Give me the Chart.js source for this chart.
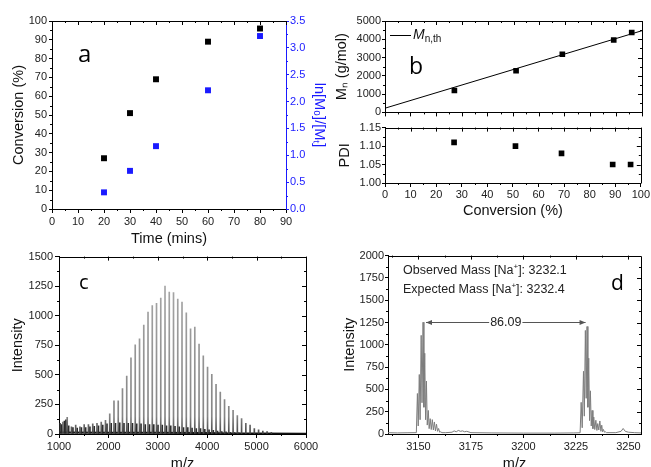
<!DOCTYPE html>
<html>
<head>
<meta charset="utf-8">
<title>Polymerisation kinetics and MALDI</title>
<script src="https://cdn.jsdelivr.net/npm/chart.js@4.4.1/dist/chart.umd.min.js"></script>
<style>
  html, body { margin: 0; padding: 0; background: #fff; overflow: hidden; }
  body { width: 651px; height: 467px; position: relative; font-family: "Liberation Sans", Arial, sans-serif; }
  canvas { position: absolute; }
  .tag { position: absolute; font-family: "Open Sans", sans-serif; color: #000; line-height: 1; }
  .note { position: absolute; font-size: 12.5px; line-height: 15px; color: #222; white-space: nowrap; }
  .note sup { font-size: 8px; vertical-align: 5px; line-height: 0; }
  .legline { position: absolute; height: 1px; background: #000; }
  .legtext { position: absolute; font-size: 14px; line-height: 16px; color: #111; }
  .legtext sub { font-size: 10px; vertical-align: -3px; line-height: 0; }
</style>
</head>
<body>
<canvas id="chart-a" width="330" height="248" style="left:0;top:0"></canvas>
<canvas id="chart-b1" width="321" height="120" style="left:330px;top:0"></canvas>
<canvas id="chart-b2" width="321" height="100" style="left:330px;top:120px"></canvas>
<canvas id="chart-c" width="330" height="225" style="left:0;top:248px"></canvas>
<canvas id="chart-d" width="321" height="225" style="left:330px;top:248px"></canvas>

<div class="tag" style="left:78px;top:41px;font-size:24px">a</div>
<div class="tag" style="left:409px;top:54px;font-size:23px">b</div>
<div class="tag" style="left:79px;top:272px;font-size:20px">c</div>
<div class="tag" style="left:611px;top:272px;font-size:21px">d</div>

<div class="legline" style="left:390px;top:35px;width:21px"></div>
<div class="legtext" style="left:413px;top:26px"><i>M</i><sub>n,th</sub></div>

<div class="note" style="left:403px;top:263px">Observed Mass [Na<sup>+</sup>]: 3232.1</div>
<div class="note" style="left:403px;top:282px">Expected Mass [Na<sup>+</sup>]: 3232.4</div>

<script>
// ---- panel a: conversion and ln[M0]/[Mt] against time
const aTime = [20, 30, 40, 60, 80];
const aConversion = [27, 51, 69, 89, 96];
const aLnRatio = [0.31, 0.71, 1.17, 2.21, 3.22];

// ---- panel b: Mn and PDI against conversion
const bConversion = [27, 51, 69, 89, 96];
const bMn = [1200, 2280, 3180, 3960, 4370];
const bPdi = [1.11, 1.10, 1.08, 1.05, 1.05];
const bTheoryConv = [0, 100];
const bTheoryMn = [230, 4470];

// ---- panel c: full MALDI spectrum, main series (gray) and minor series (dark)
const cMz = [1080, 1166, 1252, 1338, 1424, 1510, 1596, 1683, 1769, 1855,
             1941, 2027, 2113, 2199, 2285, 2371, 2457, 2543, 2630, 2716,
             2802, 2888, 2974, 3060, 3146, 3232, 3318, 3404, 3490, 3577,
             3663, 3749, 3835, 3921, 4007, 4093, 4179, 4265, 4351, 4437,
             4524, 4610, 4696, 4782, 4868, 4954, 5040, 5126, 5212, 5298];
const cIntensity = [100, 140, 60, 75, 60, 80, 80, 85, 90, 100,
                    115, 170, 280, 280, 385, 490, 645, 755, 805, 920,
                    1030, 1085, 1105, 1150, 1250, 1200, 1195, 1140, 1115, 1025,
                    890, 905, 760, 660, 565, 505, 420, 355, 290, 235,
                    200, 155, 130, 90, 75, 45, 35, 25, 20, 15];
const cMinorMz = [1020, 1050, 1110, 1140, 1196, 1282, 1368, 1454, 1540, 1626,
                  1713, 1799, 1885, 1971, 2057, 2143, 2229, 2315, 2401, 2487,
                  2573, 2660, 2746, 2832, 2918, 3004, 3090, 3176, 3262, 3348,
                  3434, 3520, 3607, 3693, 3779, 3865, 3951, 4037, 4123, 4209,
                  4295, 4381, 4467, 4554, 4640];
const cMinorIntensity = [90, 80, 110, 120, 70, 55, 50, 55, 55, 60,
                         65, 70, 75, 85, 90, 90, 95, 90, 90, 90,
                         85, 85, 80, 80, 80, 75, 75, 70, 70, 65,
                         60, 55, 55, 50, 45, 45, 40, 35, 30, 25,
                         20, 18, 15, 12, 10];
const cBaseMz = [1000, 2000, 3000, 4000, 4500, 5000, 6000];
const cBaseIntensity = [12, 10, 10, 8, 5, 4, 3];

// ---- panel d: zoom on two neighbouring isotope clusters
const dMz = [3135.5, 3140, 3145, 3149.0,
  3149.5, 3149.9, 3150.4, 3150.8, 3151.3, 3151.7, 3152.2, 3152.6, 3153.0, 3153.4,
  3153.8, 3154.2, 3154.7, 3155.1, 3155.6, 3156.1, 3156.6, 3157.1, 3157.6, 3158.1,
  3158.6, 3159.1, 3159.6, 3160.1, 3160.6, 3161.2,
  3163, 3166, 3167, 3168, 3169, 3170, 3171, 3172, 3173, 3175,
  3185, 3200, 3215, 3224, 3227.0,
  3227.5, 3228.0, 3228.6, 3229.0, 3229.5, 3229.9, 3230.3, 3230.7, 3231.1, 3231.5,
  3231.9, 3232.3, 3232.7, 3233.1, 3233.5, 3234.0, 3234.5, 3235.0, 3235.4, 3235.9,
  3236.4, 3236.9, 3237.3, 3237.7, 3238.1, 3238.6, 3239.0, 3239.6,
  3244, 3246.5, 3247.5, 3248.5, 3250, 3253, 3256];
const dIntensity = [15, 12, 14, 15,
  454, 90, 667, 160, 1106, 350, 1253, 300, 905, 160,
  593, 100, 264, 60, 172, 50, 161, 45, 135, 35,
  110, 30, 62, 20, 25, 15,
  15, 20, 35, 25, 40, 30, 35, 25, 30, 15,
  12, 10, 10, 12, 14,
  355, 70, 703, 200, 1161, 400, 1205, 300, 850, 150,
  484, 90, 264, 60, 190, 50, 154, 40, 117, 45,
  146, 30, 99, 25, 51, 20, 25, 15,
  15, 30, 62, 30, 20, 15, 12];
const dSpacingFrom = 3153.6;
const dSpacingTo = 3229.6;
const dSpacingAt = 1255;
const dSpacingLabel = '86.09';

const FONT = '"Liberation Sans", Arial, sans-serif';
const BLUE = '#1a1aff';

function pairs(xs, ys) {
    return xs.map((x, i) => ({ x: x, y: ys[i] }));
}

// one linear axis, Origin-like: box frame, outward ticks, fixed size
function axis(o) {
    const horiz = o.position === 'bottom' || o.position === 'top';
    const color = o.color || '#000';
    return {
        type: 'linear',
        position: o.position,
        min: o.min,
        max: o.max,
        offset: false,
        afterFit: s => { if (horiz) s.height = o.size; else s.width = o.size; },
        border: { display: true, color: color, width: 1 },
        grid: { drawOnChartArea: false, drawTicks: true, offset: false,
                tickLength: o.tick || 4, tickWidth: 1, color: color, tickColor: color },
        ticks: {
            display: o.labels !== false,
            stepSize: o.step,
            autoSkip: false,
            maxRotation: 0,
            includeBounds: false,
            padding: o.pad === undefined ? 2 : o.pad,
            color: o.color || '#222',
            font: { family: FONT, size: 11 },
            callback: o.fmt || (v => String(v))
        },
        title: o.title ? {
            display: true,
            text: o.title,
            color: o.color || '#111',
            font: { family: FONT, size: 14.5 },
            padding: { top: o.titlePad || 0, bottom: 0 }
        } : { display: false }
    };
}

// top/right frame lines, minor ticks and mirrored ticks
const originFrame = {
    id: 'originFrame',
    afterDraw(chart, args, opts) {
        const { ctx, chartArea: a } = chart;
        const px = v => Math.round(v) + 0.5;
        ctx.save();
        ctx.lineWidth = 1;
        ctx.strokeStyle = '#000';
        ctx.beginPath();
        ctx.moveTo(px(a.left), px(a.top));
        ctx.lineTo(px(a.right), px(a.top));
        if (!opts.rightAxis) {
            ctx.moveTo(px(a.right), px(a.top));
            ctx.lineTo(px(a.right), px(a.bottom));
        }
        ctx.stroke();

        Object.values(chart.scales).forEach(s => {
            const vals = s.ticks.map(t => t.value);
            if (vals.length < 2) return;
            const step = vals[1] - vals[0];
            const minors = [];
            for (let v = vals[0] - step / 2; v <= s.max + 1e-9; v += step) {
                if (v >= s.min - 1e-9) minors.push(v);
            }
            ctx.strokeStyle = s.options.border.color;
            ctx.beginPath();
            const seg = (x1, y1, x2, y2) => { ctx.moveTo(x1, y1); ctx.lineTo(x2, y2); };
            if (s.position === 'bottom') {
                minors.forEach(v => { const x = px(s.getPixelForValue(v)); seg(x, a.bottom, x, a.bottom + 2); });
                if (opts.mirror) {
                    vals.forEach(v => { const x = px(s.getPixelForValue(v)); seg(x, a.top, x, a.top + 4); });
                    minors.forEach(v => { const x = px(s.getPixelForValue(v)); seg(x, a.top, x, a.top + 2); });
                }
            } else if (s.position === 'left') {
                minors.forEach(v => { const y = px(s.getPixelForValue(v)); seg(a.left - 2, y, a.left, y); });
                if (opts.mirror && !opts.rightAxis) {
                    vals.forEach(v => { const y = px(s.getPixelForValue(v)); seg(a.right - 4, y, a.right, y); });
                    minors.forEach(v => { const y = px(s.getPixelForValue(v)); seg(a.right - 2, y, a.right, y); });
                }
            } else if (s.position === 'right') {
                minors.forEach(v => { const y = px(s.getPixelForValue(v)); seg(a.right, y, a.right + 2, y); });
            }
            ctx.stroke();
        });
        ctx.restore();
    }
};

// double arrow between the two clusters in panel d
const spacingArrow = {
    id: 'spacingArrow',
    afterDatasetsDraw(chart) {
        const { ctx, scales: { x, y } } = chart;
        const x1 = x.getPixelForValue(dSpacingFrom);
        const x2 = x.getPixelForValue(dSpacingTo);
        const yy = Math.round(y.getPixelForValue(dSpacingAt)) + 0.5;
        ctx.save();
        ctx.strokeStyle = '#555';
        ctx.fillStyle = '#555';
        ctx.lineWidth = 1;
        ctx.beginPath();
        ctx.moveTo(x1, yy);
        ctx.lineTo(x2, yy);
        ctx.stroke();
        ctx.beginPath();
        ctx.moveTo(x1, yy); ctx.lineTo(x1 + 6, yy - 2.5); ctx.lineTo(x1 + 6, yy + 2.5); ctx.closePath();
        ctx.moveTo(x2, yy); ctx.lineTo(x2 - 6, yy - 2.5); ctx.lineTo(x2 - 6, yy + 2.5); ctx.closePath();
        ctx.fill();
        ctx.font = '12.5px ' + FONT;
        ctx.textAlign = 'center';
        ctx.textBaseline = 'middle';
        const mid = (x1 + x2) / 2;
        const w = ctx.measureText(dSpacingLabel).width;
        ctx.fillStyle = '#fff';
        ctx.fillRect(mid - w / 2 - 1, yy - 7, w + 2, 13);
        ctx.fillStyle = '#222';
        ctx.fillText(dSpacingLabel, mid, yy);
        ctx.restore();
    }
};

const basePlugins = {
    legend: { display: false },
    tooltip: { enabled: false }
};

function square(color, r) {
    return { pointStyle: 'rect', pointRadius: r, backgroundColor: color, borderColor: color, borderWidth: 0 };
}

// ---- panel a
new Chart(document.getElementById('chart-a'), {
    type: 'scatter',
    data: {
        datasets: [
            Object.assign({ label: 'Conversion', data: pairs(aTime, aConversion), yAxisID: 'y' }, square('#000', 4.2)),
            Object.assign({ label: 'ln[M0]/[Mt]', data: pairs(aTime, aLnRatio), yAxisID: 'y2' }, square(BLUE, 4.2))
        ]
    },
    options: {
        responsive: false,
        animation: false,
        layout: { padding: { top: 21, right: 0, left: 0, bottom: 0 } },
        scales: {
            x: axis({ position: 'bottom', min: 0, max: 90, step: 10, size: 39, title: 'Time (mins)', titlePad: 0 }),
            y: axis({ position: 'left', min: 0, max: 100, step: 10, size: 52, tick: 3, title: 'Conversion (%)', titlePad: 10 }),
            y2: axis({ position: 'right', min: 0, max: 3.5, step: 0.5, size: 44, tick: 3, pad: 1, color: BLUE,
                       fmt: v => v.toFixed(1), title: 'ln[M\u2080]/[M\u209C]', titlePad: 2.6 })
        },
        plugins: Object.assign({ originFrame: { mirror: true, rightAxis: true } }, basePlugins)
    },
    plugins: [originFrame]
});

// ---- panel b, upper: Mn
new Chart(document.getElementById('chart-b1'), {
    type: 'scatter',
    data: {
        datasets: [
            { type: 'line', label: 'Mn,th', data: pairs(bTheoryConv, bTheoryMn), borderColor: '#000',
              borderWidth: 1, pointRadius: 0, fill: false },
            Object.assign({ label: 'Mn', data: pairs(bConversion, bMn) }, square('#000', 4))
        ]
    },
    options: {
        responsive: false,
        animation: false,
        layout: { padding: { top: 21, right: 9, left: 0, bottom: 0 } },
        scales: {
            x: axis({ position: 'bottom', min: 0, max: 100, step: 10, size: 7, labels: false }),
            y: axis({ position: 'left', min: 0, max: 5000, step: 1000, size: 55, tick: 3, pad: 1,
                      title: 'M\u2099 (g/mol)', titlePad: 3 })
        },
        plugins: Object.assign({ originFrame: { mirror: true } }, basePlugins)
    },
    plugins: [originFrame]
});

// ---- panel b, lower: PDI
new Chart(document.getElementById('chart-b2'), {
    type: 'scatter',
    data: {
        datasets: [
            Object.assign({ label: 'PDI', data: pairs(bConversion, bPdi) }, square('#000', 4))
        ]
    },
    options: {
        responsive: false,
        animation: false,
        layout: { padding: { top: 6, right: 9, left: 0, bottom: 0 } },
        scales: {
            x: axis({ position: 'bottom', min: 0, max: 100, step: 10, size: 37, pad: 1,
                      title: 'Conversion (%)', titlePad: 0.3 }),
            y: axis({ position: 'left', min: 1.0, max: 1.15, step: 0.05, size: 55, tick: 3, pad: 1,
                      fmt: v => v.toFixed(2), title: 'PDI', titlePad: 6 })
        },
        plugins: Object.assign({ originFrame: { mirror: true } }, basePlugins)
    },
    plugins: [originFrame]
});

// ---- panel c
new Chart(document.getElementById('chart-c'), {
    type: 'bar',
    data: {
        datasets: [
            { label: 'main series', data: pairs(cMz, cIntensity), grouped: false, barThickness: 1,
              backgroundColor: ctx => {
                  const { chart } = ctx;
                  const area = chart.chartArea;
                  if (!area) return '#909090';
                  const g = chart.ctx.createLinearGradient(0, area.bottom, 0, area.top);
                  g.addColorStop(0, '#444');
                  g.addColorStop(0.1, '#858585');
                  g.addColorStop(1, '#adadad');
                  return g;
              } },
            { label: 'minor series', data: pairs(cMinorMz, cMinorIntensity), grouped: false, barThickness: 1,
              backgroundColor: '#2a2a2a' },
            { type: 'line', label: 'baseline', data: pairs(cBaseMz, cBaseIntensity), borderColor: '#111',
              borderWidth: 2, pointRadius: 0, fill: false }
        ]
    },
    options: {
        responsive: false,
        animation: false,
        layout: { padding: { top: 6, right: 24, left: 0, bottom: 0 } },
        scales: {
            x: axis({ position: 'bottom', min: 1000, max: 6000, step: 1000, size: 39, title: 'm/z', titlePad: 2.6 }),
            y: axis({ position: 'left', min: 0, max: 1500, step: 250, size: 59, title: 'Intensity', titlePad: 9.3 })
        },
        plugins: Object.assign({ originFrame: { mirror: true } }, basePlugins)
    },
    plugins: [originFrame]
});

// ---- panel d
new Chart(document.getElementById('chart-d'), {
    type: 'line',
    data: {
        datasets: [
            { label: 'spectrum', data: pairs(dMz, dIntensity), borderColor: '#7d7d7d', borderWidth: 1,
              pointRadius: 0, tension: 0, fill: false }
        ]
    },
    options: {
        responsive: false,
        animation: false,
        layout: { padding: { top: 4, right: 10, left: 0, bottom: 0 } },
        scales: {
            x: axis({ position: 'bottom', min: 3135.5, max: 3256, step: 25, size: 39, title: 'm/z', titlePad: 2.6 }),
            y: axis({ position: 'left', min: 0, max: 2000, step: 250, size: 58, tick: 3, pad: 1,
                      title: 'Intensity', titlePad: 11.3 })
        },
        plugins: Object.assign({ originFrame: { mirror: true } }, basePlugins)
    },
    plugins: [originFrame, spacingArrow]
});
</script>
</body>
</html>
